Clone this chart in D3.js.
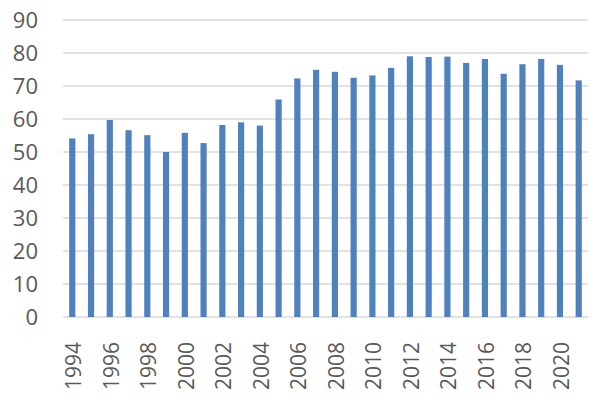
<!DOCTYPE html>
<html><head><meta charset="utf-8">
<script src="https://cdn.jsdelivr.net/npm/d3@7"></script>
<style>body{margin:0;background:#fff}svg{display:block}</style>
</head><body><svg id="c" width="592" height="400"></svg>
<script>
const years = [1994,1995,1996,1997,1998,1999,2000,2001,2002,2003,2004,2005,2006,2007,2008,2009,2010,2011,2012,2013,2014,2015,2016,2017,2018,2019,2020,2021];
const values = [54.1,55.4,59.7,56.6,55.1,50.0,55.8,52.7,58.2,59.0,58.0,65.9,72.3,74.9,74.3,72.5,73.2,75.5,79.0,78.8,78.9,77.0,78.2,73.7,76.6,78.2,76.4,71.7];
const yTicks = [0,10,20,30,40,50,60,70,80,90];
const xLabels = [1994,1996,1998,2000,2002,2004,2006,2008,2010,2012,2014,2016,2018,2020];

const svg = d3.select("#c");
const mLeft = 63, mRight = 588, mTop = 20, mBottom = 317;
const x = d3.scaleBand().domain(years).range([mLeft, mRight]).paddingInner(0.67).paddingOuter(0.33);
const y = d3.scaleLinear().domain([0, 90]).range([mBottom, mTop]);
const font = "'Open Sans', 'Liberation Sans', Arial, sans-serif";

svg.append("g").selectAll("line").data(yTicks).join("line")
  .attr("x1", mLeft).attr("x2", mRight)
  .attr("y1", d => y(d)).attr("y2", d => y(d))
  .attr("stroke", "#d9d9d9").attr("stroke-width", 1.3);

svg.append("g").selectAll("rect").data(years).join("rect")
  .attr("x", d => x(d)).attr("width", x.bandwidth())
  .attr("y", (d, i) => y(values[i])).attr("height", (d, i) => y(0) - y(values[i]))
  .attr("fill", "#4f81bd");

svg.append("g").selectAll("text").data(yTicks).join("text")
  .attr("x", 38).attr("y", d => y(d)).attr("dy", "0.36em")
  .attr("text-anchor", "end").attr("fill", "#595959")
  .style("font-family", font).style("font-size", "22px")
  .text(d => d);

svg.append("g").selectAll("text").data(xLabels).join("text")
  .attr("transform", d => `translate(${x(d) + x.bandwidth() / 2},342) rotate(-90)`)
  .attr("dy", "0.42em").attr("text-anchor", "end").attr("fill", "#595959")
  .style("font-family", font).style("font-size", "21px")
  .text(d => d);
</script></body></html>
